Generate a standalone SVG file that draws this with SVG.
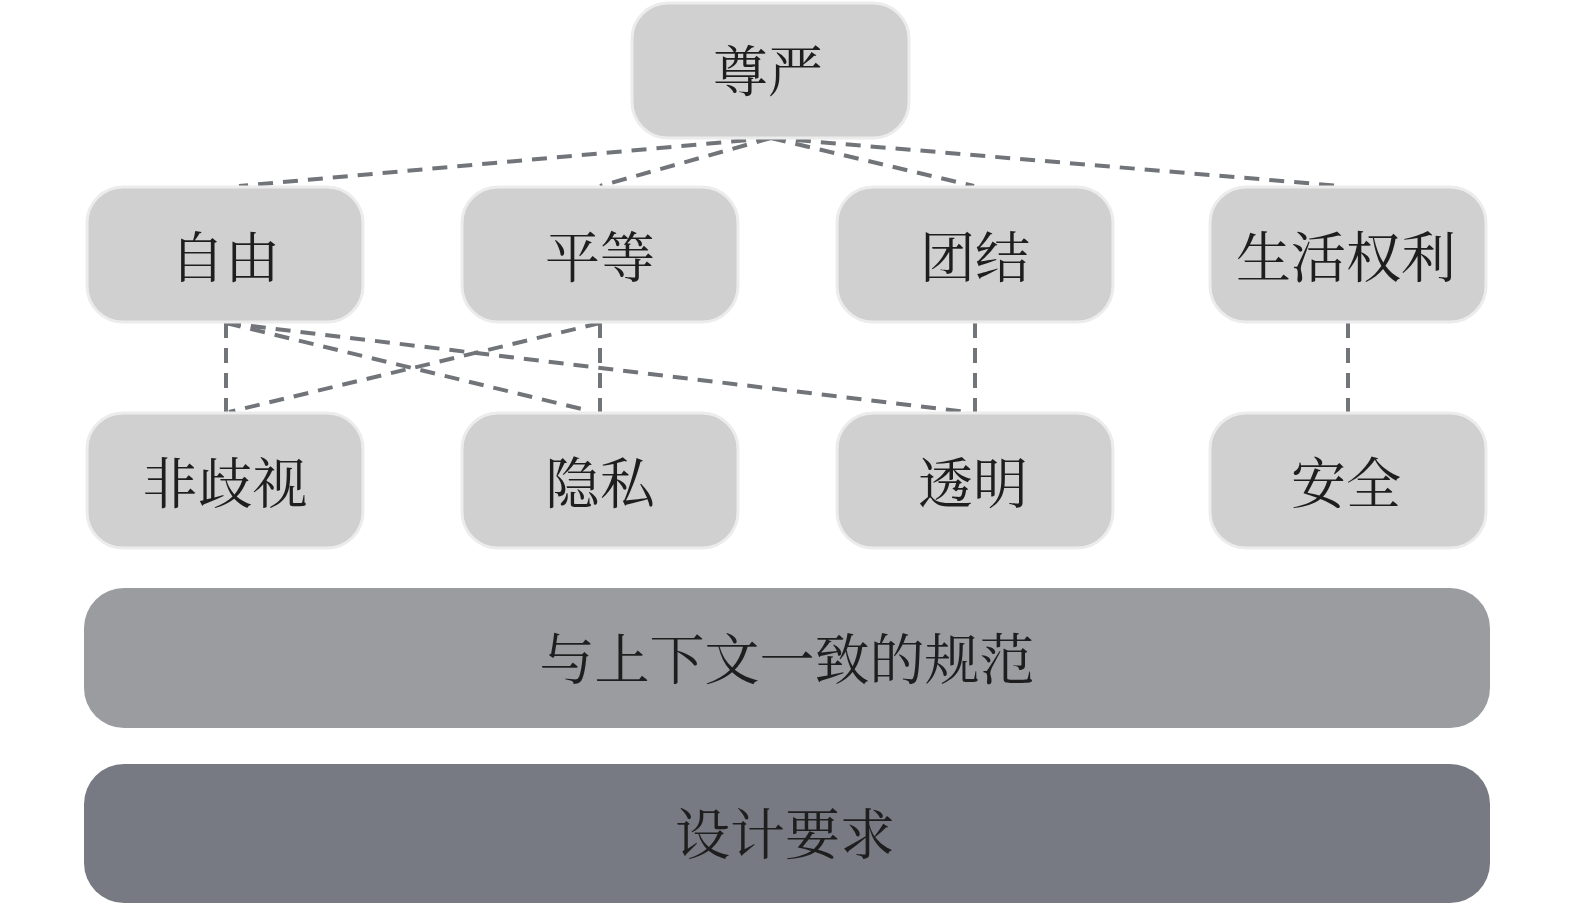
<svg xmlns="http://www.w3.org/2000/svg" width="1575" height="904" viewBox="0 0 1575 904">
<style>
.node rect{fill:#d0d0d0;stroke:#ececec;stroke-width:3}
.lbl{font-family:"Noto Serif CJK SC","Noto Sans CJK SC",serif;font-size:55px;fill:#1e1e1e;text-anchor:middle;dominant-baseline:central}
.conn line{stroke:#717479;stroke-width:4;stroke-dasharray:15 10;fill:none}
</style>
<rect width="1575" height="904" fill="#ffffff"/>
<g class="conn" id="connectors">
<line x1="771" y1="138" x2="239" y2="186"/>
<line x1="771" y1="138" x2="600" y2="186"/>
<line x1="771" y1="138" x2="974" y2="186"/>
<line x1="771" y1="138" x2="1341" y2="186"/>
<line x1="226" y1="323" x2="226" y2="412"/>
<line x1="226" y1="323" x2="586" y2="410"/>
<line x1="226" y1="323" x2="967" y2="412"/>
<line x1="600" y1="323" x2="229" y2="412"/>
<line x1="600" y1="323" x2="600" y2="412"/>
<line x1="975" y1="323" x2="975" y2="412"/>
<line x1="1348" y1="323" x2="1348" y2="412"/>
</g>
<g id="n-dignity" class="node"><rect x="632" y="3" width="277" height="135" rx="36"/><text class="lbl" x="768" y="67">尊严</text></g>
<g id="n-freedom" class="node"><rect x="87" y="187" width="276" height="135" rx="36"/><text class="lbl" x="225" y="253">自由</text></g>
<g id="n-equality" class="node"><rect x="462" y="187" width="276" height="135" rx="36"/><text class="lbl" x="600" y="253">平等</text></g>
<g id="n-solidarity" class="node"><rect x="837" y="187" width="276" height="135" rx="36"/><text class="lbl" x="975" y="253">团结</text></g>
<g id="n-liferights" class="node"><rect x="1210" y="187" width="276" height="135" rx="36"/><text class="lbl" x="1346" y="253">生活权利</text></g>
<g id="n-nondiscrimination" class="node"><rect x="87" y="413" width="276" height="135" rx="36"/><text class="lbl" x="225" y="479">非歧视</text></g>
<g id="n-privacy" class="node"><rect x="462" y="413" width="276" height="135" rx="36"/><text class="lbl" x="600" y="479">隐私</text></g>
<g id="n-transparency" class="node"><rect x="837" y="413" width="276" height="135" rx="36"/><text class="lbl" x="973" y="479">透明</text></g>
<g id="n-safety" class="node"><rect x="1210" y="413" width="276" height="135" rx="36"/><text class="lbl" x="1346" y="479">安全</text></g>
<g id="n-norms"><rect x="84" y="588" width="1406" height="140" rx="40" fill="#9b9ca0"/><text class="lbl" x="787" y="655">与上下文一致的规范</text></g>
<g id="n-design"><rect x="84" y="764" width="1406" height="139" rx="40" fill="#777a82"/><text class="lbl" x="785" y="830">设计要求</text></g>
</svg>
